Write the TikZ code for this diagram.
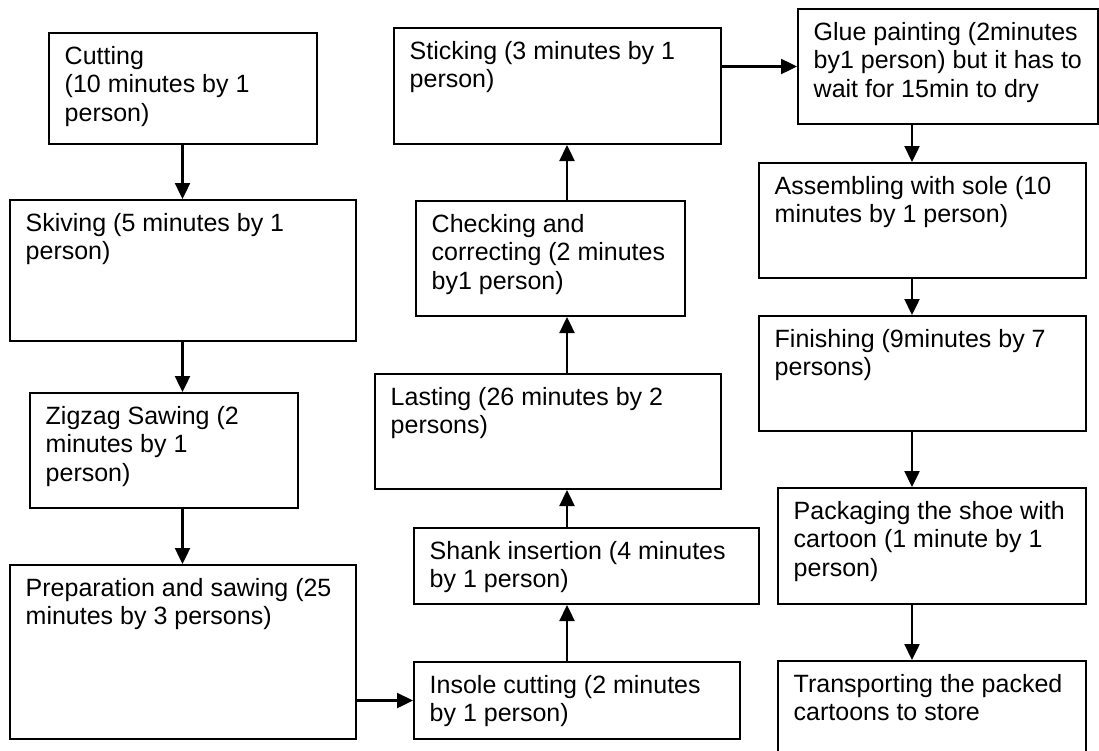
\documentclass[tikz,border=0pt]{standalone}
\usepackage{fontspec}
\setmainfont{Liberation Sans}
\usetikzlibrary{calc,arrows.meta}

\tikzset{
  procbox/.style={draw=black, line width=2pt, fill=white, inner sep=0pt},
  proctext/.style={anchor=north west, inner sep=0pt, align=left,
    font=\fontsize{25}{28.5}\selectfont},
  flow/.style={line width=2.4pt, -{Triangle[length=16pt,width=15pt]}}
}

% one process step: name, left, top, right, bottom, text
\newcommand\procstep[6]{%
  \node[procbox, anchor=north west, minimum width={#4-#2}, minimum height={#5-#3}] (#1) at (#2,#3) {};
  \node[proctext] (#1-t) at ($(#1.north west)+(16.5,12)$) {\strut #6};
}

\begin{document}
\begin{tikzpicture}[x=1pt, y=-1pt]
\useasboundingbox (0,0) rectangle (1099,750);
\clip (0,0) rectangle (1099,750);
\fill[white] (0,0) rectangle (1099,750);

% first column
\procstep{cut}{48}{32}{316}{143}{Cutting\\(10 minutes by 1\\person)}
\procstep{ski}{9}{199}{355}{340}{Skiving (5 minutes by 1\\person)}
\procstep{zig}{29}{392}{297}{507}{Zigzag Sawing (2\\minutes by 1\\person)}
\procstep{prep}{9}{564}{355}{738}{Preparation and sawing (25\\minutes by 3 persons)}

% second column
\procstep{ins}{413}{661}{739}{738}{Insole cutting (2 minutes\\by 1 person)}
\procstep{sha}{413}{527}{758}{603}{Shank insertion (4 minutes\\by 1 person)}
\procstep{las}{374}{373}{720}{488}{Lasting (26 minutes by 2\\persons)}
\procstep{chk}{415}{200}{684}{315}{Checking and\\correcting (2 minutes\\by1 person)}
\procstep{sti}{393}{27}{720}{143}{Sticking (3 minutes by 1\\person)}

% third column
\procstep{glue}{797}{8}{1097}{123}{Glue painting (2minutes\\by1 person) but it has to\\wait for 15min to dry}
\procstep{asm}{758}{162}{1085}{277}{Assembling with sole (10\\minutes by 1 person)}
\procstep{fin}{758}{315}{1085}{430}{Finishing (9minutes by 7\\persons)}
\procstep{pack}{777}{487}{1085}{603}{Packaging the shoe with\\cartoon (1 minute by 1\\person)}
\procstep{tra}{777}{660}{1085}{770}{Transporting the packed\\cartoons to store}

% vertical lanes of the connectors
\coordinate (laneA) at (182.5,0);
\coordinate (laneB) at (567,0);
\coordinate (laneC) at (912,0);

% connectors
\draw[flow] (laneA |- cut.south) -- (laneA |- ski.north);
\draw[flow] (laneA |- ski.south) -- (laneA |- zig.north);
\draw[flow] (laneA |- zig.south) -- (laneA |- prep.north);
\draw[flow] (prep.east |- ins.west) -- (ins.west);
\draw[flow] (laneB |- ins.north) -- (laneB |- sha.south);
\draw[flow] (laneB |- sha.north) -- (laneB |- las.south);
\draw[flow] (laneB |- las.north) -- (laneB |- chk.south);
\draw[flow] (laneB |- chk.north) -- (laneB |- sti.south);
\draw[flow] (sti.east |- glue.west) -- (glue.west);
\draw[flow] (laneC |- glue.south) -- (laneC |- asm.north);
\draw[flow] (laneC |- asm.south) -- (laneC |- fin.north);
\draw[flow] (laneC |- fin.south) -- (laneC |- pack.north);
\draw[flow] (laneC |- pack.south) -- (laneC |- tra.north);
\end{tikzpicture}
\end{document}
